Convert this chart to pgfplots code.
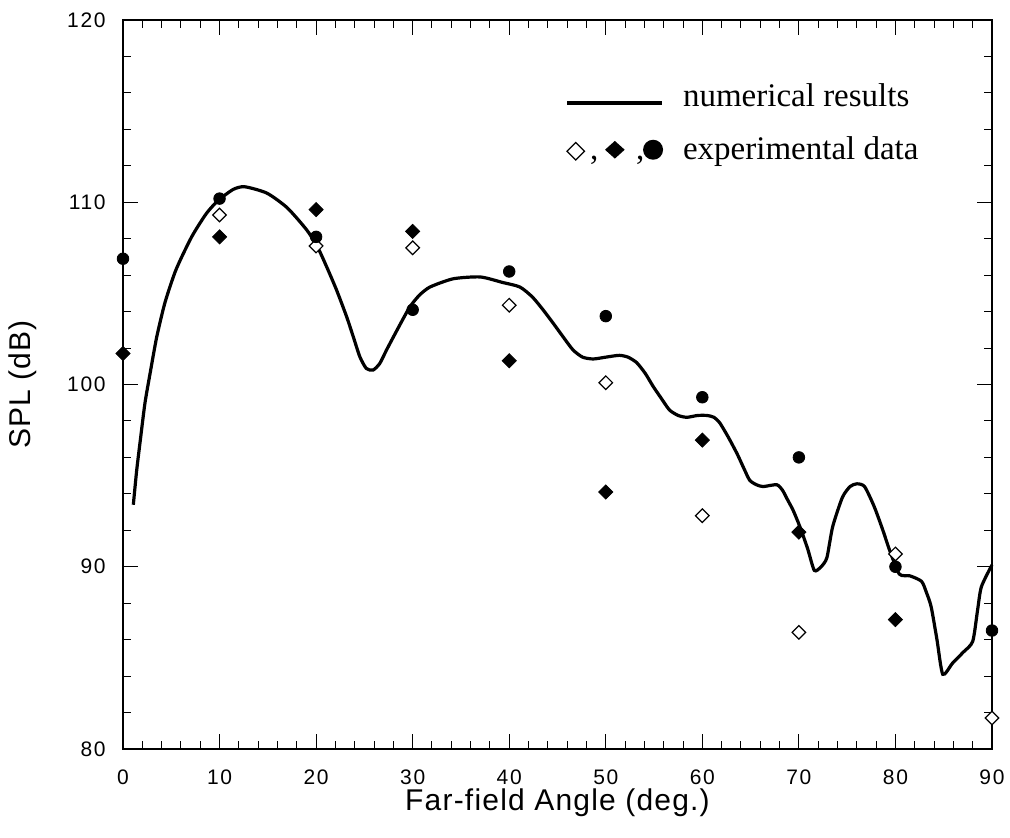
\documentclass[border=0pt]{standalone}
\usepackage{fontspec}
\setmainfont{Liberation Serif}
\setsansfont{Liberation Sans}
\usepackage{pgfplots}
\usetikzlibrary{shapes.geometric}
\pgfplotsset{compat=1.18}
\begin{document}
\begin{tikzpicture}
\useasboundingbox (-61.5pt,-44.5pt) rectangle (443.5pt,374.5pt);
\begin{axis}[
  at={(0pt,0pt)}, anchor=south west,
  scale only axis, width=434.5pt, height=364.5pt,
  xmin=0, xmax=90, ymin=80, ymax=120,
  xtick={0,10,...,90}, ytick={80,90,...,120},
  minor x tick num=4, minor y tick num=4,
  tick align=inside,
  major tick length=7.5pt, minor tick length=4pt,
  every tick/.style={black, line width=0.5pt},
  axis line style={line width=0.6pt},
  /pgf/number format/assume math mode=true,
  ticklabel style={font=\sffamily\fontsize{10.5}{10.5}\selectfont\addfontfeature{LetterSpace=8}, inner sep=0pt},
  x tick label style={anchor=north, yshift=-10pt},
  y tick label style={anchor=east, xshift=-8.5pt},
  xlabel={\addfontfeature{LetterSpace=4}Far-field Angle (deg.)},
  ylabel={\addfontfeature{LetterSpace=4}SPL (dB)},
  label style={font=\sffamily\fontsize{15}{15}\selectfont, inner sep=0pt},
  xlabel style={at={(axis description cs:0.5,-0.0535)}, anchor=north},
  ylabel style={at={(axis description cs:-0.115,0.5)}, anchor=center},
  clip=false,
]
% numerical results
\addplot[black, line width=1.6pt, smooth, tension=0.4] coordinates {
(1.07,93.4) (1.42,95.3) (1.83,97.1) (2.28,99.0) (2.87,100.8) (3.49,102.6)
(4.35,104.5) (5.49,106.3) (7.11,108.1) (8.66,109.4) (9.87,110.1) (11.4,110.7)
(12.6,110.85) (14.9,110.5) (17.0,109.7) (19.0,108.5) (20.1,107.6) (21.09,106.46)
(22.12,105.18) (23.16,103.72) (23.85,102.62) (24.53,101.52) (25.2,100.88)
(25.9,100.79) (26.6,101.16) (27.3,101.9) (28.5,103.1) (29.7,104.25) (30.7,104.9)
(31.8,105.35) (34.2,105.8) (37.0,105.9) (39.3,105.6) (41.1,105.35) (42.4,104.8)
(43.5,104.1) (44.5,103.4) (45.6,102.6) (46.6,101.9) (47.6,101.5) (48.7,101.4)
(50.0,101.5) (51.4,101.6) (52.3,101.5) (53.2,101.2) (54.1,100.6) (54.9,99.9)
(55.8,99.2) (56.6,98.6) (57.5,98.3) (58.4,98.2) (59.5,98.3) (60.5,98.3)
(61.2,98.2) (61.8,97.9) (62.7,97.1) (63.6,96.2) (64.3,95.4) (64.9,94.75)
(65.6,94.5) (66.3,94.4) (67.7,94.5) (68.3,94.2) (68.7,93.8) (69.4,93.1)
(70.1,92.2) (70.9,91.0) (71.6,89.8) (72.3,90.0) (72.9,90.5) (73.5,92.2)
(74.5,93.8) (75.3,94.4) (76.0,94.55) (76.8,94.4) (77.8,93.3) (78.7,92.0)
(79.4,90.9) (80.4,89.6) (81.5,89.5) (82.7,89.2) (83.2,88.6) (83.7,87.8)
(84.3,86.0) (84.9,84.1) (85.9,84.7) (87.0,85.3) (88.0,85.9) (88.5,87.6)
(88.9,88.9) (90.0,90.1)
};
% open diamonds
\addplot[only marks, mark=square*, mark size=2.4pt,
  mark options={rotate=45, fill=white, draw=black, line width=0.6pt}] coordinates {
(10,109.3) (20,107.6) (30,107.5) (40,104.35) (50,100.1) (60,92.8)
(70,86.4) (80,90.7) (90,81.7)
};
% filled diamonds
\addplot[only marks, mark=square*, mark size=2.5pt,
  mark options={rotate=45, fill=black, draw=black}] coordinates {
(0,101.7) (10,108.1) (20,109.6) (30,108.4) (40,101.3) (50,94.1)
(60,96.95) (70,91.9) (80,87.1)
};
% filled circles
\addplot[only marks, mark=*, mark size=2.9pt,
  mark options={fill=black, draw=black}] coordinates {
(0,106.9) (10,110.2) (20,108.1) (30,104.1) (40,106.2) (50,103.75)
(60,99.3) (70,96.0) (80,90.0) (90,86.5)
};
% legend
\draw[black, line width=2.2pt] (axis description cs:0.511,0.886) -- (axis description cs:0.620,0.886);
\node[anchor=base west, inner sep=0pt, font=\fontsize{16.5}{16.5}\selectfont] at (axis description cs:0.644,0.882) {numerical results};
\node[anchor=base west, inner sep=0pt, font=\fontsize{16.5}{16.5}\selectfont] at (axis description cs:0.644,0.809) {experimental data};
\node[diamond, draw=black, fill=white, line width=0.6pt, inner sep=0pt, minimum width=9pt, minimum height=9pt, aspect=1] at (axis description cs:0.521,0.820) {};
\node[anchor=base west, inner sep=0pt, font=\fontsize{16.5}{16.5}\selectfont] at (axis description cs:0.537,0.809) {,};
\node[diamond, fill=black, inner sep=0pt, minimum width=10pt, minimum height=9pt, aspect=1] at (axis description cs:0.566,0.822) {};
\node[anchor=base west, inner sep=0pt, font=\fontsize{16.5}{16.5}\selectfont] at (axis description cs:0.590,0.809) {,};
\node[circle, fill=black, inner sep=0pt, minimum size=10pt] at (axis description cs:0.610,0.822) {};
\end{axis}
\end{tikzpicture}
\end{document}
